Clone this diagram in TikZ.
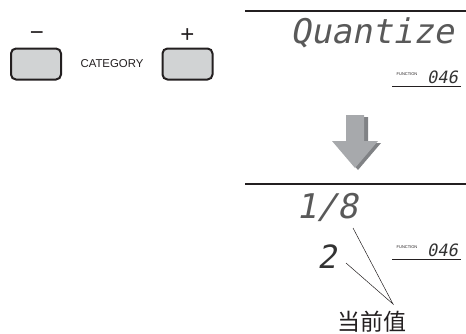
\documentclass[tikz,border=0pt]{standalone}
\usepackage{fontspec}
\setmainfont{Liberation Sans}
\newfontfamily\lcdfont{DejaVu Sans Mono}[FakeSlant=0.2]
\newfontfamily\cjkfont{Noto Sans CJK SC}
\usetikzlibrary{positioning,calc}
\definecolor{keyline}{RGB}{35,31,32}
\definecolor{keygray}{RGB}{209,211,212}
\definecolor{arrowgray}{RGB}{167,169,172}
\definecolor{arrowshade}{RGB}{128,130,133}

\begin{document}
\begin{tikzpicture}[
    x=1pt, y=1pt,
    btn/.style={rectangle, draw=keyline, fill=keygray, line width=2pt, rounded corners=5pt, minimum width=50pt, minimum height=31pt},
    sign/.style={font=\fontsize{24}{24}\selectfont, text=keyline, inner sep=0pt},
    lcdbig/.style={font=\lcdfont\fontsize{34}{34}\selectfont, text=black!65, inner sep=0pt, anchor=base west},
    lcdnum/.style={font=\lcdfont\fontsize{17}{17}\selectfont, text=black!80, inner sep=0pt, anchor=base west},
    fnlabel/.style={font=\fontsize{4}{4}\selectfont, text=keyline, inner sep=0pt},
    rule/.style={draw=keyline, line width=1.5pt},
    underline/.style={draw=keyline, line width=1pt},
    pointer/.style={draw=keyline, line width=0.5pt},
]
\useasboundingbox (0,0) rectangle (466,333);

% CATEGORY buttons
\node[btn] (minusbtn) at (36,269) {};
\node[btn] (plusbtn) at (187.5,269) {};
\node[sign] (minussign) at (37,297) {−};
\node[sign] (plussign) at (187.5,297) {+};
\node[font=\fontsize{11.4}{11.4}\selectfont, text=keyline] (category) at (112,269) {CATEGORY};

% Display before
\draw[rule] (245,322) coordinate (topleft) -- (466,322) coordinate (topright);
\node[lcdbig] (quantize) at (290,290) {Quantize};
\node[lcdnum] (fnnumtop) at (427,250) {046};
\node[fnlabel] (fntop) at (407,259) {FUNCTION};
\draw[underline] (392,247) coordinate (ultopl) -- (461,247) coordinate (ultopr);

% Arrow
\fill[arrowshade] (350,216) -- (368,216) -- (368,190) -- (381,190) -- (358,163) -- (335,190) -- (350,190) -- cycle;
\fill[arrowgray] (346,218) -- (364,218) -- (364,192) -- (378,192) -- (355,165) -- (332,192) -- (346,192) -- cycle;

% Display after
\draw[rule] (245,149) coordinate (botleft) -- (466,149) coordinate (botright);
\node[lcdbig] (fracval) at (296,115) {1/8};
\node[lcdbig, font=\lcdfont\fontsize{32}{32}\selectfont, text=black!80] (digitval) at (317,65) {2};
\node[lcdnum] (fnnumbot) at (427,77) {046};
\node[fnlabel] (fnbot) at (407,86) {FUNCTION};
\draw[underline] (392,74) coordinate (ulbotl) -- (461,74) coordinate (ulbotr);

% Current value callout
\node[font=\cjkfont\fontsize{23}{23}\selectfont, text=keyline, inner sep=0pt] (curval) at (372,11) {当前值};
\coordinate (ptrtip) at (393,29);
\coordinate (fracend) at (353,105);
\coordinate (digitend) at (346,70);
\draw[pointer] (fracend) -- (ptrtip) -- (digitend);

\end{tikzpicture}
\end{document}
